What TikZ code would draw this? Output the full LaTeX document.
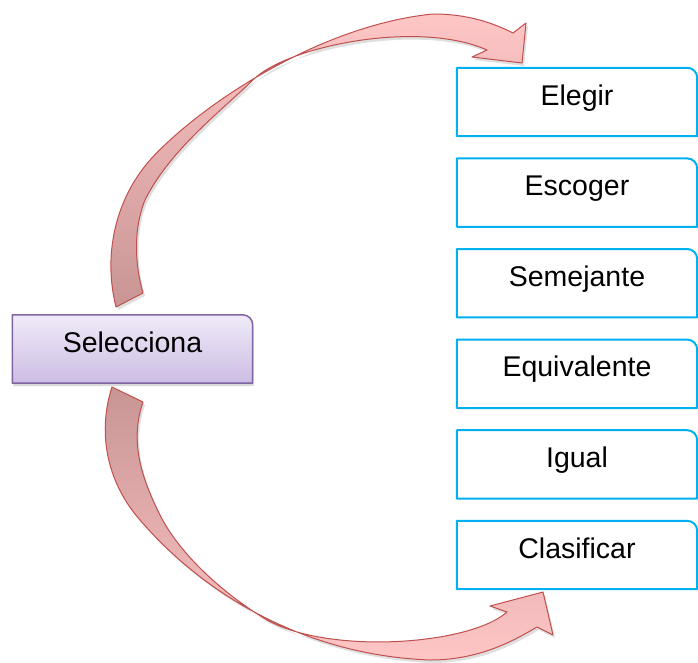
\documentclass[tikz,border=0pt]{standalone}
\usepackage{fontspec}
\setmainfont{Liberation Sans}
\usetikzlibrary{shadows}
\definecolor{boxblue}{RGB}{0,176,240}
\definecolor{selline}{RGB}{128,100,162}
\definecolor{seltop}{RGB}{240,235,248}
\definecolor{selbot}{RGB}{204,188,228}
\definecolor{arrline}{RGB}{192,80,77}
\definecolor{arrdark}{RGB}{200,148,148}
\definecolor{arrlight}{RGB}{255,198,198}
% box with one rounded corner (top right)
\def\cornerbox#1{(#1.south west) -- (#1.north west) -- ([xshift=-10pt]#1.north east) arc[start angle=90, end angle=0, radius=10pt] -- (#1.south east) -- cycle}
\begin{document}
\begin{tikzpicture}[x=1pt, y=-1pt, line join=round, line cap=round,
  word/.style={minimum width=240pt, minimum height=68pt, inner sep=0pt, text height=20pt, text depth=14pt, font=\fontsize{28.5}{34}\selectfont},
  ribbon/.style={draw=arrline, line width=1pt, drop shadow={opacity=.25, shadow xshift=2pt, shadow yshift=-3pt}}]
\useasboundingbox (0,0) rectangle (698,662);
% curved arrows
\shade[ribbon, top color=arrlight, bottom color=arrdark]
 (116,307) .. controls (103,255) and (115,200) .. (150,160)
 .. controls (200,105) and (320,25) .. (433,14)
 .. controls (470,14) and (495,24) .. (513,33)
 -- (526,23) -- (522,63) -- (472,57) -- (487,50)
 .. controls (420,20) and (290,45) .. (254,79)
 .. controls (220,112) and (170,150) .. (145,200)
 .. controls (133,230) and (135,265) .. (143,293) -- cycle;
\shade[ribbon, top color=arrdark, bottom color=arrlight]
 (112,387) .. controls (98,430) and (105,480) .. (140,520)
 .. controls (200,590) and (300,655) .. (430,660)
 .. controls (480,660) and (515,640) .. (537,627)
 -- (553,635) -- (543,592) -- (490,606) -- (507,612)
 .. controls (470,645) and (330,655) .. (267,620)
 .. controls (225,595) and (180,555) .. (160,515)
 .. controls (140,475) and (130,440) .. (143,402) -- cycle;
% boxes
\node[word] (sel) at (132.5,349) {Selecciona};
\shade[top color=seltop, bottom color=selbot, draw=selline, line width=1.5pt, drop shadow={opacity=.3, shadow xshift=1pt, shadow yshift=-3pt}] \cornerbox{sel};
\node[word] at (sel) {Selecciona};
\foreach \w [count=\i from 0] in {Elegir,Escoger,Semejante,Equivalente,Igual,Clasificar}
{
  \node[word] (w\i) at (577,{102+90.6*\i}) {\w};
  \draw[boxblue, line width=2pt] \cornerbox{w\i};
}
\end{tikzpicture}
\end{document}
